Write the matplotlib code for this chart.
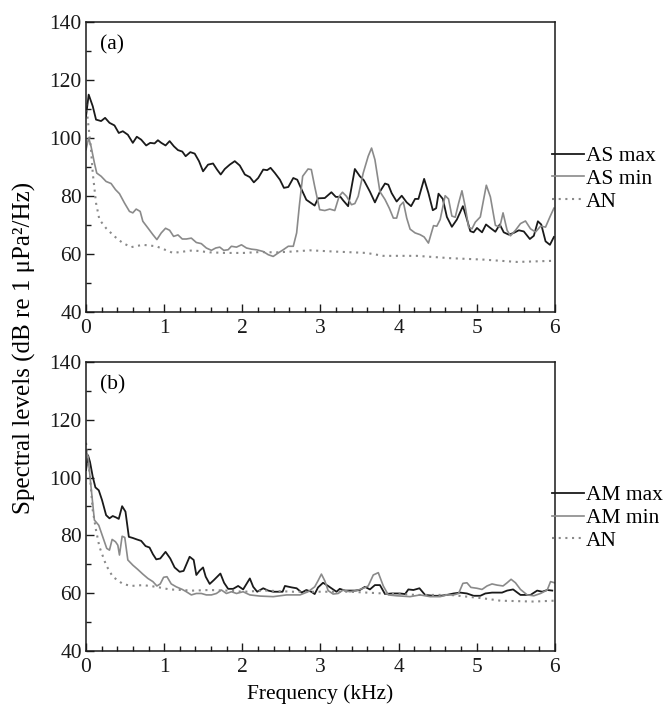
import numpy as np
import matplotlib
matplotlib.use('Agg')
import matplotlib.pyplot as plt
from matplotlib.ticker import MultipleLocator

# -------------------- data -----------------------------------------------
# panel (a)
as_max_f = [0.0, 0.034, 0.086, 0.128, 0.193, 0.244, 0.300, 0.364, 0.419, 0.471, 0.535, 0.599,
            0.650, 0.706, 0.770, 0.822, 0.877, 0.920, 0.963, 1.018, 1.070, 1.125, 1.177, 1.232,
            1.275, 1.335, 1.391, 1.446, 1.498, 1.562, 1.626, 1.677, 1.724, 1.776, 1.840, 1.904,
            1.968, 2.033, 2.097, 2.148, 2.204, 2.268, 2.319, 2.362, 2.418, 2.482, 2.533, 2.589,
            2.653, 2.704, 2.760, 2.820, 2.927, 2.970, 3.056, 3.141, 3.197, 3.257, 3.291, 3.355,
            3.441, 3.505, 3.557, 3.634, 3.698, 3.762, 3.827, 3.869, 3.912, 3.976, 4.041, 4.105,
            4.161, 4.212, 4.255, 4.328, 4.383, 4.439, 4.482, 4.512, 4.567, 4.619, 4.683, 4.747,
            4.824, 4.867, 4.919, 4.961, 5.004, 5.069, 5.120, 5.176, 5.240, 5.296, 5.347, 5.411,
            5.475, 5.540, 5.604, 5.681, 5.732, 5.784, 5.827, 5.882, 5.938, 5.989]
as_max = [107.6, 115, 111, 106.4, 105.9, 107, 105.3, 104.4, 101.8, 102.4, 101.2, 98.4,
          100.5, 99.5, 97.5, 98.4, 98.2, 99.3, 98.4, 97.5, 99, 97.2, 95.9, 95.4,
          93.8, 95.2, 94.7, 92.1, 88.6, 90.9, 91.3, 89.2, 87.5, 89.4, 90.9, 92.1,
          90.6, 87.5, 86.6, 84.8, 86.3, 89.2, 89, 89.8, 88, 85.7, 82.9, 83.2,
          86.3, 85.7, 82.3, 78.8, 76.8, 79.3, 79.4, 81.4, 79.8, 79.8, 78.6, 76.6,
          89.4, 86.9, 85.5, 81.6, 77.9, 81.6, 84.4, 84, 81.1, 78.2, 80.2, 77.9,
          76.6, 79.1, 79.1, 86, 81.1, 75.2, 75.9, 80.9, 79.1, 72.9, 69.5, 72,
          76.6, 72.9, 68, 67.6, 69.1, 67.6, 70.3, 69.1, 67.8, 70.3, 67.6, 66.8,
          67.4, 68.3, 67.9, 65.3, 66.4, 71.4, 70.3, 64.5, 63.3, 66.0]

as_min_f = [0.0, 0.034, 0.064, 0.107, 0.137, 0.193, 0.257, 0.321, 0.377, 0.428, 0.492, 0.556,
            0.599, 0.642, 0.693, 0.727, 0.792, 0.856, 0.907, 0.963, 1.018, 1.070, 1.121, 1.177,
            1.232, 1.284, 1.348, 1.412, 1.476, 1.540, 1.605, 1.660, 1.712, 1.763, 1.819, 1.861,
            1.926, 1.990, 2.054, 2.118, 2.182, 2.268, 2.332, 2.396, 2.460, 2.525, 2.589, 2.653,
            2.696, 2.730, 2.773, 2.842, 2.884, 2.927, 2.991, 3.056, 3.120, 3.184, 3.240, 3.283,
            3.334, 3.398, 3.441, 3.484, 3.548, 3.612, 3.655, 3.698, 3.762, 3.827, 3.882, 3.934,
            3.976, 4.019, 4.062, 4.105, 4.148, 4.212, 4.276, 4.328, 4.383, 4.448, 4.490, 4.533,
            4.597, 4.640, 4.683, 4.726, 4.769, 4.812, 4.854, 4.897, 4.940, 4.983, 5.047, 5.124,
            5.176, 5.240, 5.296, 5.338, 5.390, 5.433, 5.497, 5.561, 5.625, 5.690, 5.754, 5.818,
            5.882, 5.938, 5.989]
as_min = [96.1, 100.1, 97.2, 91.5, 88, 86.9, 85.1, 84.4, 82.3, 80.9, 77.7, 74.8,
          74.3, 75.6, 74.8, 71.4, 69.1, 66.8, 65.1, 67.4, 69, 68.3, 66.2, 66.7,
          65.3, 65.3, 65.6, 64.1, 63.7, 62.2, 61.4, 62.2, 62.5, 61.4, 61.6, 62.8,
          62.5, 63.3, 62.2, 61.8, 61.6, 61, 59.9, 59.3, 60.5, 61.6, 62.8, 62.8,
          67.4, 76.6, 86.9, 89.4, 89.2, 83.4, 75.4, 75.1, 75.6, 75.1, 80, 81.4,
          80, 77.1, 77.5, 80, 88, 93.8, 96.6, 92.6, 81.6, 78.9, 75.9, 72.5,
          72.5, 76.8, 78, 72.5, 68.7, 67.4, 66.8, 66, 63.9, 69.9, 69.7, 72,
          80.2, 79.1, 73.2, 72.8, 77.6, 81.9, 76.4, 69.4, 68.8, 71.1, 72.9, 83.8,
          79.8, 70, 69.4, 74.3, 68.3, 66.4, 68.3, 70.6, 71.5, 68.8, 67.7, 69.7,
          69.4, 72.9, 75.9]

an_a_f = [0.0, 0.064, 0.086, 0.128, 0.171, 0.257, 0.364, 0.471, 0.578, 0.727, 0.899, 1.113,
          1.369, 1.583, 1.797, 2.011, 2.225, 2.439, 2.653, 2.867, 3.163, 3.591, 3.805, 4.233,
          4.662, 5.090, 5.518, 5.989]
an_a = [112, 96, 88, 77.7, 72, 69, 66.2, 63.9, 62.5, 63.3, 62.8, 60.5,
        61.4, 60.7, 60.5, 60.5, 60.8, 60.7, 61, 61.4, 61, 60.5, 59.5, 59.5,
        58.7, 58.2, 57.4, 57.8]

# panel (b)
am_max_f = [0.0, 0.026, 0.051, 0.086, 0.120, 0.163, 0.205, 0.257, 0.300, 0.342, 0.385, 0.419,
            0.462, 0.505, 0.548, 0.599, 0.650, 0.706, 0.762, 0.813, 0.856, 0.899, 0.950, 1.018,
            1.078, 1.134, 1.198, 1.249, 1.326, 1.378, 1.412, 1.455, 1.498, 1.532, 1.583, 1.635,
            1.720, 1.767, 1.819, 1.883, 1.947, 2.011, 2.097, 2.140, 2.191, 2.268, 2.332, 2.396,
            2.516, 2.546, 2.632, 2.696, 2.760, 2.820, 2.884, 2.927, 2.970, 3.034, 3.099, 3.163,
            3.206, 3.248, 3.313, 3.441, 3.505, 3.570, 3.634, 3.698, 3.762, 3.827, 3.912, 4.019,
            4.084, 4.126, 4.191, 4.268, 4.340, 4.448, 4.533, 4.619, 4.705, 4.790, 4.876, 4.961,
            5.047, 5.111, 5.197, 5.325, 5.390, 5.467, 5.561, 5.690, 5.775, 5.839, 5.904, 5.968]
am_max = [102.6, 107.7, 105.4, 100.3, 96.6, 95.6, 92.2, 87, 85.9, 86.7, 86.2, 85.7,
          90.1, 88.2, 79.5, 79.1, 78.6, 78.1, 76.3, 75.8, 73.5, 71.7, 72, 74.3,
          72, 68.9, 67.4, 67.7, 72.6, 71.5, 66.3, 67.8, 68.9, 65.7, 63.2, 64.5,
          66.8, 63.6, 61.5, 61.5, 62.5, 61.3, 65.1, 62.2, 60.5, 61.7, 60.9, 60.5,
          60.5, 62.5, 62, 61.7, 60.2, 61.1, 60.5, 59.7, 62, 63.6, 62.5, 61.3,
          60.5, 61.5, 60.9, 60.9, 61.1, 62.2, 61.3, 62.8, 62.8, 59.7, 59.9, 59.9,
          59.7, 61.3, 61.1, 61.7, 59.4, 59.1, 59.1, 59.4, 59.9, 60.2, 59.9, 59.1,
          59.1, 59.9, 60.2, 60.2, 60.9, 61.3, 59.4, 59.4, 60.9, 60.5, 61.1, 60.9]

am_min_f = [0.0, 0.026, 0.064, 0.107, 0.163, 0.214, 0.265, 0.300, 0.334, 0.377, 0.407, 0.428,
            0.462, 0.496, 0.535, 0.599, 0.663, 0.727, 0.792, 0.856, 0.907, 0.950, 0.993, 1.036,
            1.091, 1.155, 1.232, 1.284, 1.348, 1.412, 1.476, 1.540, 1.605, 1.669, 1.733, 1.797,
            1.861, 1.926, 2.011, 2.097, 2.225, 2.396, 2.567, 2.739, 2.842, 2.927, 2.970, 3.013,
            3.056, 3.099, 3.163, 3.227, 3.291, 3.377, 3.463, 3.548, 3.612, 3.677, 3.741, 3.805,
            3.869, 3.976, 4.148, 4.276, 4.405, 4.533, 4.619, 4.705, 4.769, 4.824, 4.876, 4.927,
            5.004, 5.069, 5.133, 5.197, 5.261, 5.338, 5.390, 5.441, 5.497, 5.561, 5.647, 5.732,
            5.818, 5.904, 5.946, 5.998]
am_min = [109.5, 107.2, 96.8, 85.3, 83.5, 79.5, 75.5, 74.9, 78.6, 77.8, 76.6, 73.2,
          79.7, 79.3, 71.5, 69.7, 68.2, 66.6, 65.1, 64, 62.5, 63.2, 65.5, 65.7,
          63.2, 62.2, 61.3, 60.5, 59.4, 59.9, 59.9, 59.4, 59.4, 59.9, 61.1, 59.9,
          60.5, 59.9, 60.5, 59.4, 59, 58.8, 59.4, 59.4, 60.5, 62.2, 64.3, 66.6,
          64.3, 60.9, 59.7, 59.9, 61.1, 60.5, 60.9, 61.7, 62.5, 66.3, 67.1, 62.5,
          59.4, 59.1, 58.8, 59.4, 58.8, 58.8, 59.4, 59.4, 59.9, 63.4, 63.6, 62,
          61.7, 61.3, 62.5, 63.2, 62.8, 62.5, 63.6, 64.8, 63.6, 61.3, 59.4, 59.1,
          59.9, 61.1, 64, 63.6]

an_b_f = [0.0, 0.051, 0.086, 0.128, 0.171, 0.257, 0.342, 0.471, 0.578, 0.727, 0.899, 1.070,
          1.369, 1.583, 1.797, 2.011, 2.311, 2.653, 3.377, 3.805, 4.233, 4.662, 4.876, 5.090,
          5.304, 5.732, 5.989]
an_b = [112, 100.3, 88.7, 81.8, 76.1, 69.7, 65.7, 63.2, 62.5, 62.8, 62.2, 61.3,
        60.9, 61.1, 60.9, 60.5, 60.9, 60.5, 60.5, 59.9, 59.4, 59.4, 58.8, 58.2,
        57.4, 57.1, 57.4]

# -------------------- plotting -------------------------
plt.rcParams['font.family'] = ['Liberation Serif', 'DejaVu Serif']
plt.rcParams['font.size'] = 15.5

dark = '#1a1a1a'
grey = '#8a8a8a'

fig = plt.figure(figsize=(6.7, 7.12), dpi=100)
ax1 = fig.add_axes([0.1284, 0.5611, 0.6996, 0.408])
ax2 = fig.add_axes([0.1284, 0.0857, 0.6996, 0.4059])

panels = [
    (ax1, '(a)', as_max_f, as_max, as_min_f, as_min, an_a_f, an_a, 'AS'),
    (ax2, '(b)', am_max_f, am_max, am_min_f, am_min, an_b_f, an_b, 'AM'),
]

for ax, tag, fmx, vmx, fmn, vmn, fan, van, name in panels:
    ax.plot(fmx, vmx, color=dark, lw=1.3, label=name + ' max')
    ax.plot(fmn, vmn, color=grey, lw=1.2, label=name + ' min')
    ax.plot(fan, van, color=grey, lw=1.5, ls=(0, (1, 2.2)), label='AN')

    ax.set_xlim(0, 6)
    ax.set_ylim(40, 140)
    ax.xaxis.set_major_locator(MultipleLocator(1))
    ax.xaxis.set_minor_locator(MultipleLocator(0.2))
    ax.yaxis.set_major_locator(MultipleLocator(20))
    ax.yaxis.set_minor_locator(MultipleLocator(10))
    ax.tick_params(which='both', direction='in', width=1.0, colors=dark)
    ax.tick_params(axis='x', pad=5)
    ax.tick_params(axis='y', pad=3)
    ax.tick_params(which='major', length=6)
    ax.tick_params(which='minor', length=3.5)
    for sp in ax.spines.values():
        sp.set_linewidth(1.1)
        sp.set_color(dark)

    ax.text(0.03, 0.955, tag, transform=ax.transAxes, ha='left', va='top')

    ax.legend(loc='center left', bbox_to_anchor=(0.995, 0.46), frameon=False,
              handlelength=1.45, handletextpad=0.1, labelspacing=0.12,
              borderaxespad=0, borderpad=0)

ax2.set_xlabel('Frequency (kHz)', labelpad=5)
fig.text(0.037, 0.511, 'Spectral levels (dB re 1 \u03bcPa\u00b2/Hz)', rotation=90,
         ha='center', va='center', fontsize=18)

fig.savefig('out.png', dpi=100)
